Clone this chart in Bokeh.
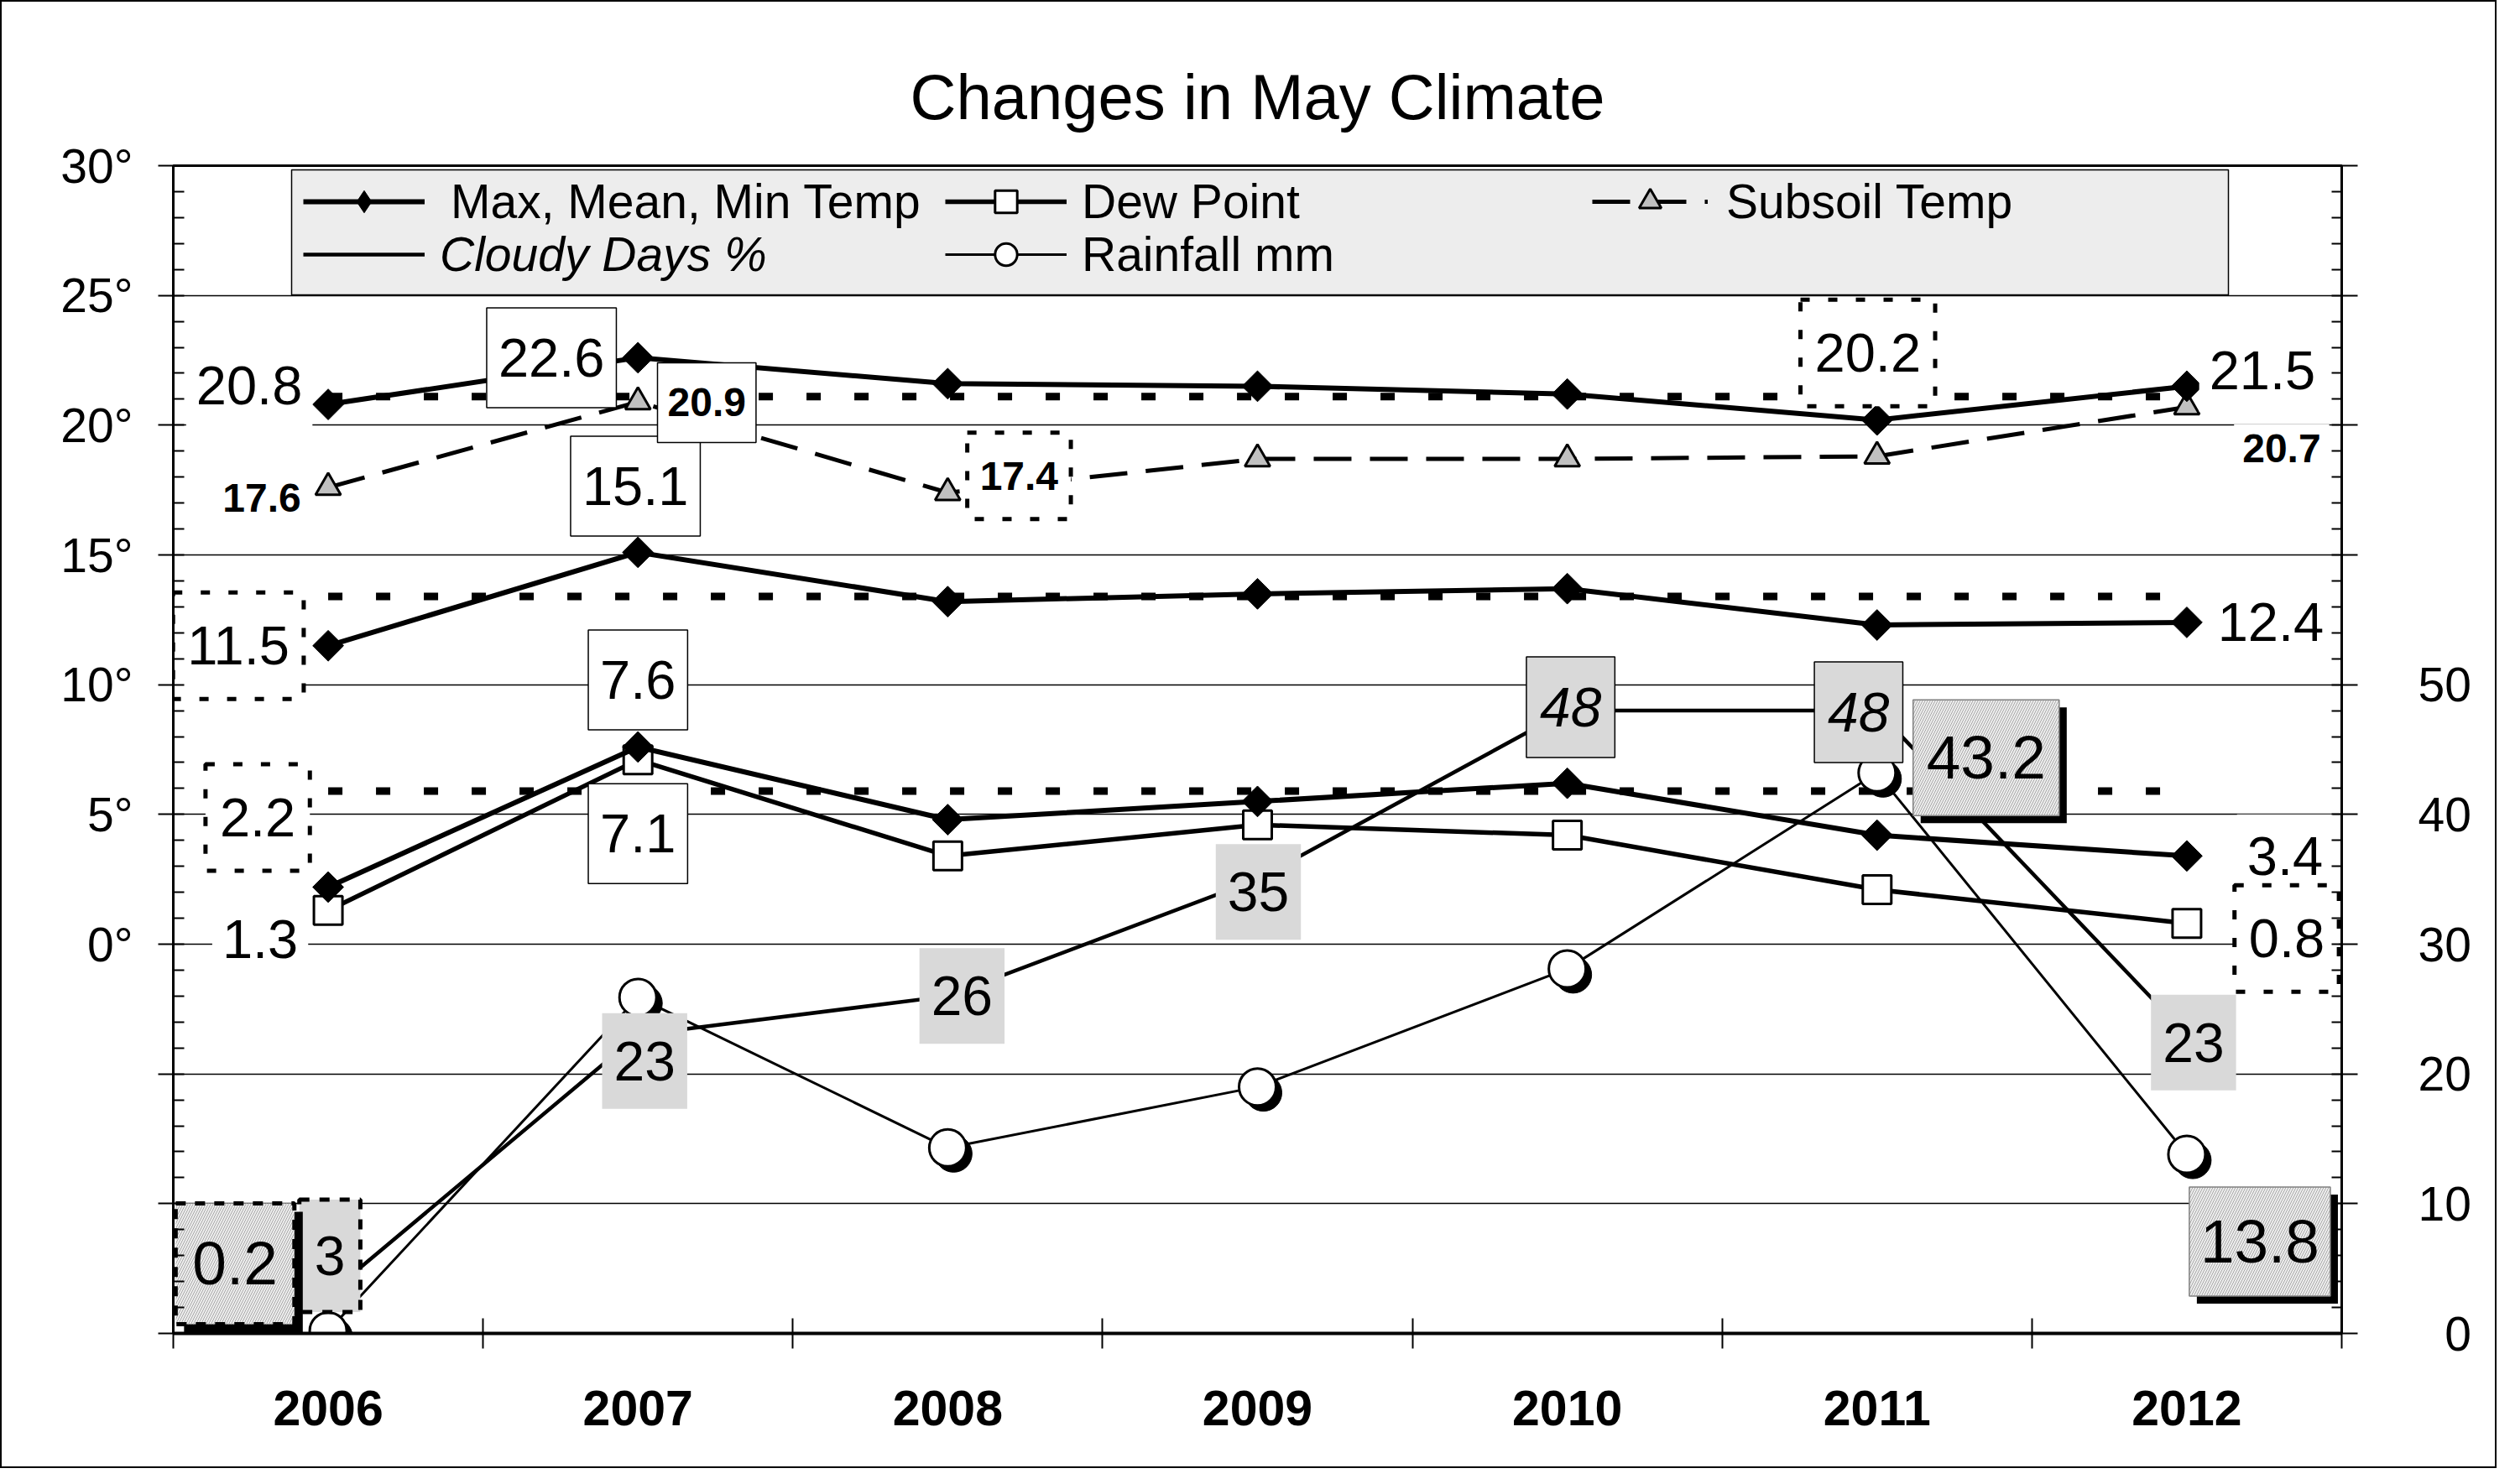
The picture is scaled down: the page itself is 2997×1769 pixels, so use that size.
import numpy as np
from bokeh.plotting import figure
from bokeh.models import (Range1d, LinearAxis, FixedTicker, ColumnDataSource,
                          Legend, LegendItem, BoxAnnotation, Text)
from bokeh.core.properties import value
from bokeh.core.property.dataspec import DataSpec
from bokeh.transform import dodge
from bokeh.embed import file_html
from bokeh.resources import INLINE

FONT = "Liberation Sans"

# ---------------- data ----------------
years = [2006, 2007, 2008, 2009, 2010, 2011, 2012]
max_temp = [20.8, 22.6, 21.6, 21.5, 21.2, 20.2, 21.5]
mean_temp = [11.5, 15.1, 13.2, 13.5, 13.7, 12.3, 12.4]
min_temp = [2.2, 7.6, 4.8, 5.5, 6.2, 4.2, 3.4]
dew_point = [1.3, 7.1, 3.4, 4.6, 4.2, 2.1, 0.8]
subsoil_temp = [17.6, 20.9, 17.4, 18.7, 18.7, 18.8, 20.7]
cloudy_days = [3, 23, 26, 35, 48, 48, 23]
rainfall = [0.2, 25.9, 14.3, 19.0, 28.1, 43.2, 13.8]
normal_max = 21.1
normal_mean = 13.4
normal_min = 5.9

temp_ticks = list(range(-15, 31, 5))
temp_labels = {t: (f"{t}\u00b0" if t >= 0 else "") for t in temp_ticks}
right_ticks = list(range(0, 91, 10))
right_labels = {t: (str(t) if t <= 50 else "") for t in right_ticks}
right_labels[0] = "\u20070"

# ---------------- figure ----------------
W, H = 2975, 1750
ML, MR, MT, MB = 204, 187, 195, 163
FW = W - ML - MR
FH = H - MT - MB
X0, X1 = years[0] - 0.5, years[-1] + 0.5
Y0, Y1 = -15, 30
R0, R1 = 0, 90

p = figure(width=W, height=H, output_backend="svg", toolbar_location=None,
           x_range=Range1d(X0, X1), y_range=Range1d(Y0, Y1),
           min_border_left=ML, min_border_right=MR, min_border_top=MT,
           min_border_bottom=MB, background_fill_color="white")
p.extra_y_ranges = {"right": Range1d(R0, R1)}
# transparent canvas border so the element's CSS border stays visible
p.border_fill_color = None
p.styles = {"border": "2px solid black", "background-color": "white"}

p.title.text = "Changes in May Climate"
p.title.align = "center"
p.title.text_font = FONT
p.title.text_font_size = "76px"
p.title.text_font_style = "normal"
p.title.text_color = "black"
p.title.standoff = 80

p.outline_line_color = "black"
p.outline_line_width = 3
p.xgrid.visible = False
p.ygrid.ticker = FixedTicker(ticks=temp_ticks)
p.ygrid.grid_line_color = "black"
p.ygrid.grid_line_width = 1.5

xa = p.xaxis[0]
xa.ticker = FixedTicker(ticks=years, minor_ticks=[X0 + i for i in range(len(years) + 1)])
xa.major_label_overrides = {y: str(y) for y in years}
xa.major_tick_in = 0
xa.major_tick_out = 0
xa.minor_tick_in = 18
xa.minor_tick_out = 18
xa.minor_tick_line_color = "black"
xa.minor_tick_line_width = 2
xa.axis_line_width = 4
xa.axis_line_color = "black"
xa.major_label_text_font = FONT
xa.major_label_text_font_size = "59px"
xa.major_label_text_font_style = "bold"
xa.major_label_text_color = "black"
xa.major_label_standoff = 50

ya = p.yaxis[0]
ya.ticker = FixedTicker(ticks=temp_ticks, minor_ticks=list(range(-15, 31)))
ya.major_label_overrides = temp_labels
ya.major_tick_in = 0
ya.major_tick_out = 18
ya.minor_tick_in = 13
ya.minor_tick_out = 0
ya.major_tick_line_width = 2
ya.minor_tick_line_width = 2
ya.major_tick_line_color = "black"
ya.minor_tick_line_color = "black"
ya.axis_line_width = 3
ya.axis_line_color = "black"
ya.major_label_text_font = FONT
ya.major_label_text_font_size = "57px"
ya.major_label_text_color = "black"
ya.major_label_standoff = 30

ra = LinearAxis(y_range_name="right",
                ticker=FixedTicker(ticks=right_ticks, minor_ticks=list(range(0, 91, 2))))
ra.major_label_overrides = right_labels
ra.major_tick_in = 0
ra.major_tick_out = 19
ra.minor_tick_in = 12
ra.minor_tick_out = 0
ra.major_tick_line_width = 2
ra.minor_tick_line_width = 2
ra.major_tick_line_color = "black"
ra.minor_tick_line_color = "black"
ra.axis_line_width = 3
ra.axis_line_color = "black"
ra.major_label_text_font = FONT
ra.major_label_text_font_size = "57px"
ra.major_label_text_color = "black"
ra.major_label_standoff = 72
p.add_layout(ra, "right")

# ---------------- series ----------------
for nv in (normal_max, normal_mean, normal_min):
    p.line([years[0], years[-1]], [nv, nv], line_color="black", line_width=9,
           line_dash="17 40", line_cap="butt")

r_cld = p.line(years, cloudy_days, y_range_name="right", line_color="black", line_width=4.5)

rain_src = ColumnDataSource(dict(x=years, y=rainfall))
r_rain_l = p.line("x", "y", source=rain_src, y_range_name="right", line_color="black", line_width=3)
sh_dx = 7 * (X1 - X0) / FW
sh_dy = 7 * (R1 - R0) / FH
p.scatter(x=dodge("x", sh_dx), y=dodge("y", -sh_dy), source=rain_src, y_range_name="right",
          marker="circle", size=44, fill_color="black", line_color="black")
r_rain_p = p.scatter("x", "y", source=rain_src, y_range_name="right", marker="circle", size=44,
                     fill_color="white", line_color="black", line_width=3)

r_sub_l = p.line(years, subsoil_temp, line_color="black", line_width=5, line_dash="45 22")
r_sub_p = p.scatter(years, subsoil_temp, marker="triangle", size=30, fill_color="#c0c0c0",
                    line_color="black", line_width=3)

r_dew_l = p.line(years, dew_point, line_color="black", line_width=5.5)
r_dew_p = p.scatter(years, dew_point, marker="square", size=34, fill_color="white",
                    line_color="black", line_width=3)

temp_r = []
for vals in (min_temp, mean_temp, max_temp):
    rl = p.line(years, vals, line_color="black", line_width=6)
    rp = p.scatter(years, vals, marker="square", angle=np.pi / 4, size=26,
                   fill_color="black", line_color="black")
    temp_r.append((rl, rp))

# legend-only diamond glyph (a single NaN point, never drawn in the plot)
r_leg_diamond = p.scatter(x=[np.nan], y=[np.nan], marker="diamond", size=42,
                          fill_color="black", line_color="black")

# ---------------- labels ----------------
TEXT_DS = isinstance(Text.lookup("border_line_dash").property, DataSpec)


def vv(x):
    return value(x) if TEXT_DS else x


def add_labels(specs, size, style="normal", pad=(12, 14), bg="white", border=None,
               bw=1.5, dash="solid", hatch=None, shadow=0, yr="default"):
    xs, ys, ts, dxs, dys = [], [], [], [], []
    for vals, i, dx, dy in specs:
        xs.append(years[i])
        ys.append(vals[i])
        ts.append(f"{vals[i]:g}")
        dxs.append(dx)
        dys.append(dy)
    src = ColumnDataSource(dict(x=xs, y=ys, text=ts, dx=dxs, dy=dys,
                                sdx=[d + shadow for d in dxs], sdy=[d + shadow for d in dys]))
    common = dict(x="x", y="y", text="text", source=src, text_font=value(FONT),
                  text_font_size=f"{size}px", text_font_style=style, text_align="center",
                  text_baseline="middle", padding=pad, y_range_name=yr)
    if shadow:
        p.text(x_offset="sdx", y_offset="sdy", text_alpha=0, background_fill_color="black",
               border_line_color=None, **common)
    kw = dict(x_offset="dx", y_offset="dy", text_color="black", background_fill_color=bg)
    if border:
        kw.update(border_line_color=border, border_line_width=bw, border_line_dash=vv(dash))
    else:
        kw.update(border_line_color=None)
    if hatch:
        kw.update(background_hatch_pattern=vv(hatch), background_hatch_color="#a8a8a8",
                  background_hatch_scale=6, background_hatch_weight=1)
    p.text(**kw, **common)


# temperatures
add_labels([(max_temp, 0, -94, -23), (max_temp, 6, 90, -19), (mean_temp, 6, 100, 0),
            (min_temp, 6, 117, 0), (dew_point, 0, -81, 34)], 65, pad=(12, 27))
add_labels([(max_temp, 1, -103, 0), (mean_temp, 1, -3, -79), (min_temp, 1, 0, -80),
            (dew_point, 1, 0, 88)], 65, pad=(14, 37), border="black", bw=1.5)
add_labels([(max_temp, 5, -11, -80), (mean_temp, 0, -107, 0), (min_temp, 0, -84, -83),
            (dew_point, 6, 119, 18)], 65, pad=(17, 41), border="black", bw=5, dash="11 22")
# subsoil
add_labels([(subsoil_temp, 0, -79, 12), (subsoil_temp, 6, 113, 49)], 48, style="bold", pad=(10, 12))
add_labels([(subsoil_temp, 1, 82, 1)], 48, style="bold", pad=(12, 31), border="black", bw=1.5)
add_labels([(subsoil_temp, 2, 85, -20)], 48, style="bold", pad=(15, 35), border="black", bw=5,
           dash="11 22")
# cloudy days
add_labels([(cloudy_days, 0, 2, -46)], 66, pad=(18, 44), bg="#d9d9d9", border="black", bw=5,
           dash="12 12", yr="right")
add_labels([(cloudy_days, 1, 8, 31), (cloudy_days, 2, 17, 0), (cloudy_days, 3, 1, 15),
            (cloudy_days, 6, 8, 9)], 66, pad=(14, 34), bg="#d9d9d9", yr="right")
add_labels([(cloudy_days, 4, 4, -4), (cloudy_days, 5, -22, 2)], 66, style="italic",
           pad=(16, 37), bg="#d9d9d9", border="black", bw=1.5, yr="right")
# rainfall
add_labels([(rainfall, 0, -111, -80)], 73, pad=(20, 47), bg="#eeeeee", border="black", bw=5,
           dash="12 11", hatch="/", shadow=10, yr="right")
add_labels([(rainfall, 5, 130, -18)], 73, pad=(16, 44), bg="#eeeeee", border="#808080", bw=1.5,
           hatch="/", shadow=9, yr="right")
add_labels([(rainfall, 6, 87, 104)], 73, pad=(13, 40), bg="#eeeeee", border="#808080", bw=1.5,
           hatch="/", shadow=9, yr="right")

# ---------------- legend ----------------
LB_L, LB_T, LB_W, LB_H = 141, 5, 2308, 149   # legend box, px from frame left / top
box = BoxAnnotation(left=X0 + LB_L / FW * (X1 - X0),
                    right=X0 + (LB_L + LB_W) / FW * (X1 - X0),
                    top=Y1 - LB_T / FH * (Y1 - Y0),
                    bottom=Y1 - (LB_T + LB_H) / FH * (Y1 - Y0),
                    fill_color="#ededed", fill_alpha=1, line_color="black", line_width=1.5,
                    line_alpha=1)
p.add_layout(box)


def mk_legend(item, left, bottom_from_top, italic=False, glyph_width=145, standoff=18):
    lg = Legend(items=[item], location=(left, FH - bottom_from_top), orientation="horizontal",
                padding=0, margin=0, spacing=0, glyph_width=glyph_width, glyph_height=66,
                label_height=66, label_width=20, label_standoff=standoff,
                border_line_color=None, background_fill_alpha=0)
    lg.label_text_font = FONT
    lg.label_text_font_size = "57px"
    lg.label_text_font_style = "italic" if italic else "normal"
    lg.label_text_color = "black"
    lg.label_text_baseline = "middle"
    p.add_layout(lg)
    return lg


ROW1, ROW2 = 76, 139
mx_l, mx_p = temp_r[2]
mk_legend(LegendItem(label="Max, Mean, Min Temp", renderers=[mx_l, r_leg_diamond]), 155, ROW1,
          standoff=31)
mk_legend(LegendItem(label="Dew Point", renderers=[r_dew_l, r_dew_p]), 920, ROW1)
mk_legend(LegendItem(label="Subsoil Temp", renderers=[r_sub_l, r_sub_p]), 1691, ROW1,
          glyph_width=138, standoff=22)
mk_legend(LegendItem(label="Cloudy Days %", renderers=[r_cld]), 155, ROW2, italic=True)
mk_legend(LegendItem(label="Rainfall mm", renderers=[r_rain_l, r_rain_p]), 920, ROW2)

open("out.html", "w").write(file_html(p, INLINE, "Changes in May Climate"))
